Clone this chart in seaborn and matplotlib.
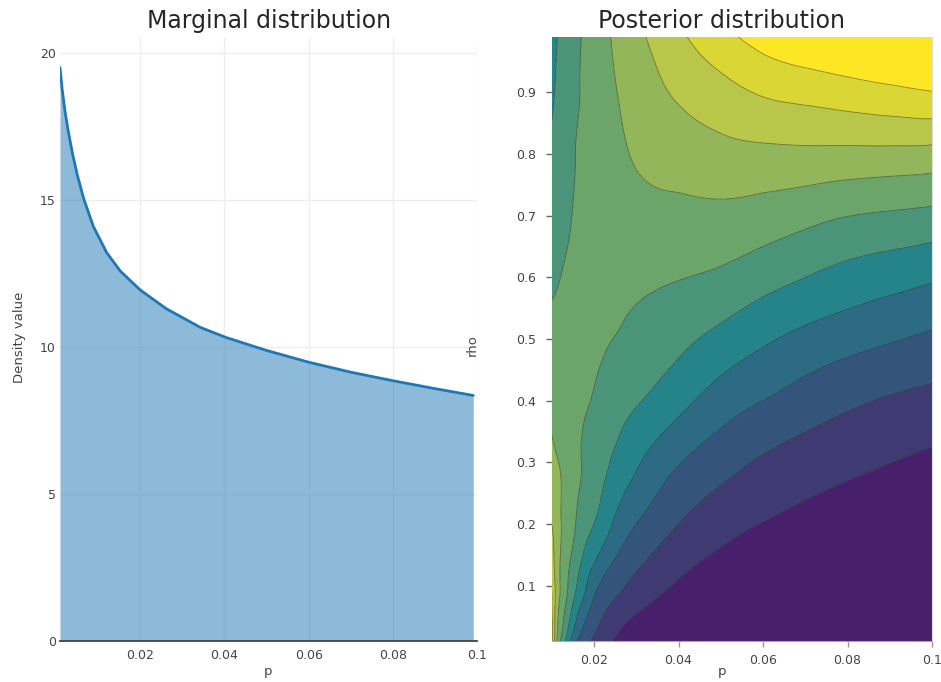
import numpy as np
import matplotlib
matplotlib.use("Agg")
import matplotlib.pyplot as plt
import matplotlib.tri as mtri
import pandas as pd
import seaborn as sns

# ---------------- data ----------------
# marginal density of p
p_marg = [0.001, 0.0015, 0.0022, 0.003, 0.004, 0.0051, 0.0066, 0.0089, 0.0121, 0.0153,
          0.02, 0.0262, 0.0342, 0.0404, 0.05, 0.06, 0.07, 0.08, 0.09, 0.099]
dens = [19.5, 18.78, 18.0, 17.3, 16.55, 15.85, 15.05, 14.1, 13.2, 12.58,
        11.94, 11.30, 10.67, 10.32, 9.88, 9.48, 9.14, 8.85, 8.58, 8.35]

# posterior grid (contour level estimated from the right panel)
p_grid = [0.010, 0.011, 0.0125, 0.015, 0.0175, 0.020, 0.025, 0.030,
          0.040, 0.050, 0.060, 0.070, 0.080, 0.090, 0.100]
rho_grid = [0.01, 0.05, 0.10, 0.20, 0.30, 0.40, 0.50, 0.60, 0.70, 0.80, 0.90, 0.99]

z_rho_001 = [9.30, 7.25, 5.60, 3.55, 2.45, 1.85, 0.93, 0.25, 0.00, -0.50, -0.75, -0.95, -1.26, -1.50, -1.70]
z_rho_005 = [9.20, 7.58, 6.25, 4.60, 3.33, 2.50, 1.54, 0.95, 0.40, -0.10, -0.38, -0.60, -0.90, -1.20, -1.40]
z_rho_010 = [8.90, 7.80, 6.70, 5.40, 4.33, 3.33, 2.33, 1.70, 0.90, 0.40, 0.07, -0.18, -0.48, -0.75, -1.00]
z_rho_020 = [8.00, 7.54, 6.91, 6.20, 5.45, 5.00, 3.83, 3.00, 2.00, 1.37, 0.98, 0.68, 0.39, 0.15, -0.10]
z_rho_030 = [7.33, 7.12, 6.83, 6.38, 5.91, 5.50, 4.85, 4.15, 3.07, 2.39, 1.87, 1.53, 1.26, 1.02, 0.79]
z_rho_040 = [6.76, 6.63, 6.50, 6.30, 6.12, 5.93, 5.46, 5.09, 4.33, 3.53, 3.00, 2.55, 2.18, 1.91, 1.71]
z_rho_050 = [6.28, 6.27, 6.25, 6.20, 6.14, 6.10, 5.98, 5.72, 5.25, 4.70, 4.16, 3.72, 3.38, 3.09, 2.82]
z_rho_060 = [5.85, 5.92, 6.03, 6.15, 6.25, 6.30, 6.30, 6.22, 6.04, 5.82, 5.40, 5.00, 4.65, 4.39, 4.13]
z_rho_070 = [5.45, 5.58, 5.76, 6.02, 6.20, 6.35, 6.55, 6.67, 6.75, 6.75, 6.57, 6.30, 6.02, 5.87, 5.73]
z_rho_080 = [5.15, 5.30, 5.52, 5.93, 6.14, 6.35, 6.75, 7.10, 7.43, 7.69, 7.77, 7.79, 7.75, 7.72, 7.65]
z_rho_090 = [4.87, 5.07, 5.32, 5.75, 6.11, 6.40, 6.95, 7.40, 8.15, 8.65, 9.10, 9.33, 9.55, 9.76, 9.96]
z_rho_099 = [4.70, 4.93, 5.20, 5.66, 6.08, 6.45, 7.14, 7.75, 8.80, 9.68, 10.40, 10.90, 11.15, 11.30, 11.50]

band_colors = ['#481f6b', '#3f3b72', '#35547b', '#2d6b84', '#25848a', '#4a9579',
               '#6ca56a', '#93b65a', '#b8c64a', '#dad634', '#fde725']

x_ticks_left = [0.02, 0.04, 0.06, 0.08, 0.1]
x_ticklabels = ['0.02', '0.04', '0.06', '0.08', '0.1']
y_ticks_left = [0, 5, 10, 15, 20]
y_ticks_right = [0.1, 0.2, 0.3, 0.4, 0.5, 0.6, 0.7, 0.8, 0.9]

# ---------------- figure ----------------
sns.set_style("white")
plt.rcParams['font.family'] = ['DejaVu Sans']

W, H = 941, 682
fig = plt.figure(figsize=(W / 100, H / 100), dpi=100)


def axes_px(x0, x1, y0, y1):
    return fig.add_axes([x0 / W, 1 - y1 / H, (x1 - x0) / W, (y1 - y0) / H])


ax1 = axes_px(60, 477.5, 37, 641)
ax2 = axes_px(551.75, 932, 37, 641)

tick_color = '#444444'

# ---- left: marginal distribution ----
df = pd.DataFrame({'p': p_marg, 'density': dens})
ax1.set_axisbelow(True)
ax1.grid(True, color='#eeeeee', lw=1)
ax1.fill_between(df['p'], 0, df['density'], color='#1f77b4', alpha=0.5, lw=0, zorder=2)
sns.lineplot(data=df, x='p', y='density', ax=ax1, color='#1f77b4', lw=2, zorder=3)
ax1.set_xlim(0.001, 0.1)
ax1.set_ylim(0, 20.54)
ax1.set_xticks(x_ticks_left)
ax1.set_xticklabels(x_ticklabels)
ax1.set_yticks(y_ticks_left)
ax1.set_xlabel('')
ax1.set_ylabel('')
for s in ['top', 'right', 'left']:
    ax1.spines[s].set_visible(False)
ax1.spines['bottom'].set_color('#444444')
ax1.spines['bottom'].set_linewidth(1.3)
ax1.spines['bottom'].set_zorder(4)
ax1.tick_params(axis='both', length=0, labelsize=9, labelcolor=tick_color)
ax1.tick_params(axis='x', pad=6)
ax1.tick_params(axis='y', pad=3)

# ---- right: posterior contour ----
Z = np.array([z_rho_001, z_rho_005, z_rho_010, z_rho_020, z_rho_030, z_rho_040,
              z_rho_050, z_rho_060, z_rho_070, z_rho_080, z_rho_090, z_rho_099])
P, R = np.meshgrid(p_grid, rho_grid)
# triangulate in normalised coordinates, smooth-render with a cubic refiner
U = (P - 0.01) / 0.09
V = (R - 0.01) / 0.98
tri_n = mtri.Triangulation(U.ravel(), V.ravel())
refiner = mtri.UniformTriRefiner(tri_n)
interp = mtri.CubicTriInterpolator(tri_n, Z.ravel(), kind='min_E')
tri_f, z_f = refiner.refine_field(Z.ravel(), triinterpolator=interp, subdiv=4)
tri_plot = mtri.Triangulation(0.01 + tri_f.x * 0.09, 0.01 + tri_f.y * 0.98, tri_f.triangles)

levels = [min(Z.min(), z_f.min()) - 1] + list(range(1, 11)) + [max(Z.max(), z_f.max()) + 1]
ax2.tricontourf(tri_plot, z_f, levels=levels, colors=band_colors)
ax2.tricontour(tri_plot, z_f, levels=list(range(1, 11)), colors='#2a2a2a',
               linewidths=0.6, alpha=0.55)
ax2.set_xlim(0.01, 0.1)
ax2.set_ylim(0.01, 0.99)
ax2.set_xticks(x_ticks_left)
ax2.set_xticklabels(x_ticklabels)
ax2.set_yticks(y_ticks_right)
ax2.set_yticklabels([f'{v:.1f}' for v in y_ticks_right])
for s in ['top', 'left']:
    ax2.spines[s].set_visible(False)
ax2.spines['bottom'].set_color('#aaaaaa')
ax2.spines['right'].set_color('#dddddd')
ax2.tick_params(axis='x', direction='out', length=4, width=1, color='#999999',
                labelsize=9, labelcolor=tick_color, pad=5, bottom=True)
ax2.tick_params(axis='y', direction='out', length=4, width=1, color='#666666',
                labelsize=9, labelcolor=tick_color, pad=7, left=True)

# ---- titles and labels ----
fig.text(269 / W, 1 - 21 / H, 'Marginal distribution', ha='center', va='center', fontsize=17)
fig.text(722 / W, 1 - 21 / H, 'Posterior distribution', ha='center', va='center', fontsize=17)
fig.text(268 / W, 1 - 672 / H, 'p', ha='center', va='center', fontsize=9.5, color=tick_color)
fig.text(722 / W, 1 - 672 / H, 'p', ha='center', va='center', fontsize=9.5, color=tick_color)
fig.text(20 / W, 1 - 337 / H, 'Density value', ha='center', va='center', rotation=90,
         fontsize=9.5, color=tick_color)
fig.text(472 / W, 1 - 345 / H, 'rho', ha='center', va='center', rotation=90,
         fontsize=9.5, color=tick_color)

fig.savefig('out.png', dpi=100)
